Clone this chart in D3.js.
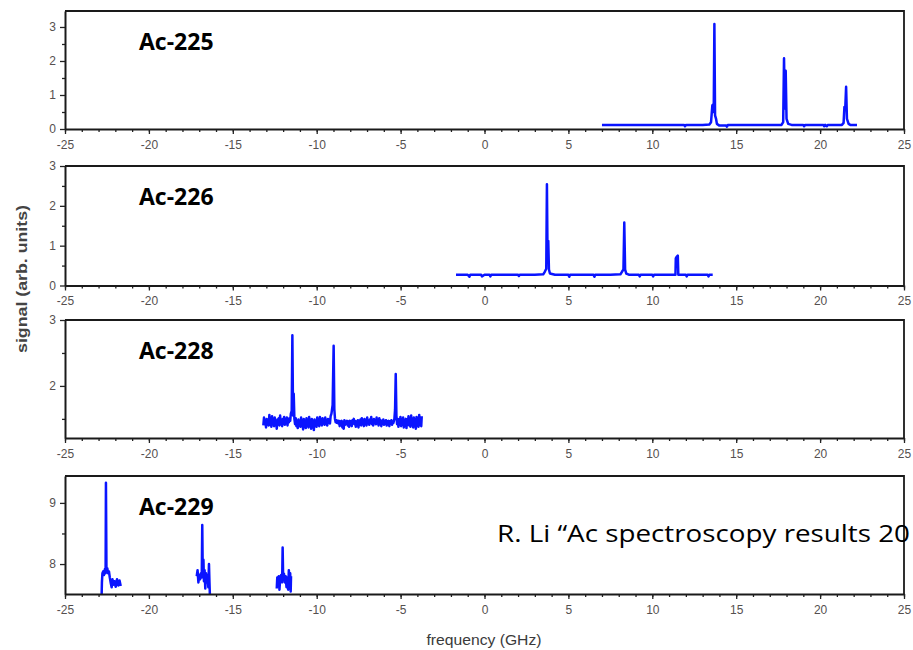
<!DOCTYPE html>
<html lang="en">
<head>
  <meta charset="UTF-8">
  <title>Ac spectra</title>
  <script src="https://d3js.org/d3.v7.min.js"></script>
  <style>
    body { margin: 0; background: #fff; }
    .tick text { font-family: "Liberation Sans", Arial, sans-serif; font-size: 12px; fill: #55504f; }
  </style>
</head>
<body>
  <script>
    // spectra: [frequency GHz, signal]
    var ac225 = [
      [7.0,0.12],[8.0,0.12],[9.0,0.12],[10.0,0.12],[11.0,0.12],[11.9,0.12],[11.95,0.08],[12.0,0.12],
      [13.0,0.12],[13.4,0.13],[13.5,0.2],[13.58,0.7],[13.63,0.72],[13.66,0.5],[13.7,3.09],[13.74,0.4],
      [13.8,0.3],[13.85,0.15],[14.0,0.1],[14.4,0.1],[14.45,0.07],[14.5,0.12],[15,0.12],[16,0.12],
      [17,0.12],[17.7,0.12],[17.8,0.2],[17.85,2.08],[17.9,0.6],[17.95,1.71],[18.0,0.3],[18.1,0.15],
      [18.3,0.12],[19.0,0.12],[19.05,0.08],[19.1,0.12],[20.2,0.12],[20.25,0.08],[20.3,0.12],[20.4,0.08],
      [20.45,0.12],[21.3,0.12],[21.4,0.18],[21.45,0.65],[21.5,0.62],[21.55,1.24],[21.6,0.3],[21.7,0.15],
      [21.8,0.12],[22.2,0.12]
    ];

    var ac226 = [
      [-1.7,0.27],[-1.0,0.27],[-0.9,0.22],[-0.85,0.27],[-0.2,0.27],[-0.15,0.23],[0,0.27],[0.3,0.27],
      [0.35,0.23],[0.4,0.27],[1.0,0.27],[2.0,0.27],[2.05,0.24],[2.1,0.27],[3.0,0.27],[3.5,0.28],
      [3.6,0.35],[3.68,0.42],[3.72,2.54],[3.76,0.6],[3.8,1.12],[3.84,0.4],[3.9,0.3],[4.2,0.27],
      [5,0.27],[5.05,0.22],[5.1,0.27],[6.5,0.27],[6.55,0.22],[6.6,0.27],[7.5,0.27],[8.1,0.28],
      [8.2,0.35],[8.28,0.4],[8.33,1.58],[8.38,0.4],[8.45,0.3],[8.6,0.27],[9.2,0.27],[9.25,0.23],
      [9.3,0.27],[10,0.27],[10.05,0.23],[10.1,0.27],[11.38,0.27],[11.4,0.68],[11.45,0.72],[11.52,0.75],
      [11.55,0.27],[12,0.27],[12.05,0.23],[12.1,0.27],[13.3,0.27],[13.35,0.23],[13.4,0.27],[13.6,0.27]
    ];

    var ac228 = [
      [-13.18,1.40],[-13.14,1.52],[-13.1,1.42],[-13.06,1.48],[-13.02,1.37],[-12.98,1.50],[-12.94,1.43],
      [-12.9,1.47],[-12.86,1.40],[-12.82,1.56],[-12.78,1.41],[-12.74,1.49],[-12.7,1.38],[-12.66,1.54],
      [-12.62,1.44],[-12.58,1.50],[-12.54,1.39],[-12.5,1.52],[-12.46,1.42],[-12.42,1.47],[-12.38,1.35],
      [-12.34,1.49],[-12.3,1.44],[-12.26,1.51],[-12.22,1.40],[-12.18,1.55],[-12.14,1.42],[-12.1,1.48],
      [-12.06,1.39],[-12.02,1.50],[-11.98,1.43],[-11.94,1.53],[-11.9,1.41],[-11.86,1.48],[-11.82,1.44],
      [-11.78,1.52],[-11.74,1.40],[-11.7,1.50],[-11.66,1.45],[-11.62,1.51],[-11.58,1.47],[-11.54,1.58],
      [-11.49,1.62],[-11.45,2.77],[-11.41,1.55],[-11.37,1.88],[-11.33,1.50],
      [-11.29,1.42],[-11.25,1.51],[-11.21,1.39],[-11.17,1.47],[-11.13,1.36],[-11.09,1.49],[-11.05,1.41],
      [-11.01,1.46],[-10.97,1.38],[-10.93,1.52],[-10.89,1.40],[-10.85,1.45],[-10.81,1.34],[-10.77,1.50],
      [-10.73,1.42],[-10.69,1.47],[-10.65,1.36],[-10.61,1.51],[-10.57,1.40],[-10.53,1.48],[-10.49,1.37],
      [-10.45,1.53],[-10.41,1.41],[-10.37,1.46],[-10.33,1.35],[-10.29,1.50],[-10.25,1.43],[-10.21,1.47],
      [-10.17,1.33],[-10.13,1.49],[-10.09,1.40],[-10.05,1.46],[-10.01,1.38],[-9.97,1.52],[-9.93,1.41],
      [-9.89,1.48],[-9.85,1.39],[-9.81,1.53],[-9.77,1.42],[-9.73,1.49],[-9.69,1.40],[-9.65,1.51],
      [-9.61,1.43],[-9.57,1.47],[-9.53,1.41],[-9.49,1.52],[-9.45,1.44],[-9.41,1.48],[-9.37,1.40],
      [-9.33,1.50],[-9.29,1.45],[-9.25,1.49],[-9.21,1.43],[-9.17,1.54],[-9.12,1.58],[-9.05,1.71],
      [-8.99,2.61],[-8.95,1.65],[-8.91,1.50],
      [-8.87,1.45],[-8.83,1.48],[-8.79,1.44],[-8.75,1.47],[-8.71,1.43],[-8.67,1.47],[-8.63,1.39],
      [-8.59,1.46],[-8.55,1.42],[-8.51,1.47],[-8.47,1.37],[-8.43,1.45],[-8.39,1.35],[-8.35,1.48],
      [-8.31,1.41],[-8.27,1.46],[-8.23,1.43],[-8.19,1.47],[-8.15,1.40],[-8.11,1.46],[-8.07,1.38],
      [-8.03,1.47],[-7.99,1.44],[-7.95,1.46],[-7.91,1.39],[-7.87,1.48],[-7.83,1.43],[-7.79,1.50],
      [-7.75,1.42],[-7.71,1.47],[-7.67,1.38],[-7.63,1.46],[-7.59,1.41],[-7.55,1.48],[-7.51,1.37],
      [-7.47,1.47],[-7.43,1.43],[-7.39,1.49],[-7.35,1.40],[-7.31,1.51],[-7.27,1.44],[-7.23,1.47],
      [-7.19,1.39],[-7.15,1.50],[-7.11,1.43],[-7.07,1.46],[-7.03,1.40],[-6.99,1.52],[-6.95,1.44],
      [-6.91,1.47],[-6.87,1.41],[-6.83,1.49],[-6.79,1.45],[-6.75,1.53],[-6.71,1.42],[-6.67,1.48],
      [-6.63,1.40],[-6.59,1.50],[-6.55,1.44],[-6.51,1.47],[-6.47,1.42],[-6.43,1.52],[-6.39,1.43],
      [-6.35,1.47],[-6.31,1.40],[-6.27,1.51],[-6.23,1.44],[-6.19,1.48],[-6.15,1.39],[-6.11,1.46],
      [-6.07,1.43],[-6.03,1.49],[-5.99,1.41],[-5.95,1.47],[-5.91,1.44],[-5.87,1.48],[-5.83,1.40],
      [-5.79,1.46],[-5.75,1.42],[-5.71,1.47],[-5.67,1.39],[-5.63,1.46],[-5.59,1.43],[-5.55,1.48],
      [-5.51,1.41],[-5.47,1.46],[-5.43,1.44],[-5.37,1.50],[-5.33,1.64],[-5.29,2.18],[-5.25,1.55],
      [-5.21,1.42],
      [-5.17,1.50],[-5.13,1.38],[-5.09,1.49],[-5.05,1.41],[-5.01,1.53],[-4.97,1.39],[-4.93,1.47],
      [-4.89,1.42],[-4.85,1.52],[-4.81,1.37],[-4.77,1.48],[-4.73,1.43],[-4.69,1.50],[-4.65,1.36],
      [-4.61,1.49],[-4.57,1.41],[-4.53,1.54],[-4.49,1.40],[-4.45,1.47],[-4.41,1.38],[-4.37,1.55],
      [-4.33,1.42],[-4.29,1.49],[-4.25,1.37],[-4.21,1.52],[-4.17,1.41],[-4.13,1.47],[-4.09,1.35],
      [-4.05,1.53],[-4.01,1.40],[-3.97,1.48],[-3.93,1.38],[-3.89,1.56],[-3.85,1.41],[-3.81,1.50],
      [-3.77,1.39],[-3.74,1.54]
    ];

    // three separate scans, null = gap
    var ac229 = [
      [-22.82,7.45],[-22.8,7.7],[-22.77,7.85],[-22.72,7.88],[-22.68,7.82],[-22.62,7.92],[-22.58,7.85],
      [-22.56,9.33],[-22.53,7.9],[-22.48,7.93],[-22.43,7.85],[-22.38,7.88],[-22.33,7.78],[-22.28,7.7],
      [-22.22,7.62],[-22.17,7.75],[-22.12,7.66],[-22.05,7.72],[-21.98,7.63],[-21.9,7.75],[-21.82,7.65],
      [-21.75,7.73],[-21.68,7.64],
      null,
      [-17.15,7.8],[-17.1,7.9],[-17.05,7.7],[-17.0,7.82],[-16.95,7.75],[-16.9,7.85],[-16.85,7.78],
      [-16.82,8.64],[-16.79,7.8],[-16.75,8.07],[-16.72,7.72],[-16.68,7.9],[-16.64,7.6],[-16.6,7.85],
      [-16.55,7.7],[-16.5,7.82],[-16.46,7.62],[-16.42,8.0],[-16.39,7.7],[-16.36,7.45],
      null,
      [-12.38,7.6],[-12.35,7.78],[-12.3,7.65],[-12.26,7.8],[-12.22,7.58],[-12.18,7.75],[-12.12,7.82],
      [-12.06,7.7],[-12.03,8.27],[-12.0,7.78],[-11.95,7.84],[-11.9,7.7],[-11.85,7.8],[-11.8,7.62],
      [-11.75,7.78],[-11.7,7.58],[-11.66,7.9],[-11.62,7.65],[-11.58,7.85],[-11.55,7.55],[-11.53,7.8]
    ];

    var isotopes = ["Ac-225", "Ac-226", "Ac-228", "Ac-229"];
    var spectra = [ac225, ac226, ac228, ac229];
    var yDomains = [[0, 3.47], [0, 3], [1.21, 3], [7.51, 9.44]];
    var yMajor = [[0, 1, 2, 3], [0, 1, 2, 3], [2, 3], [8, 9]];
    var yMinor = [[0.5, 1.5, 2.5], [0.5, 1.5, 2.5], [1.5, 2.5], [8.5]];
    var xMajor = [-25, -20, -15, -10, -5, 0, 5, 10, 15, 20, 25];
    var xMinor = d3.range(-25, 26, 1);

    var w = 913;
    var h = 650;
    var left = 65, right = 904;
    var panelTop = [11, 166, 320, 476];
    var panelBottom = [129, 285.5, 438, 594];

    var svg = d3.select("body")
                .append("svg")
                .attr("width", w)
                .attr("height", h);

    var xScale = d3.scaleLinear()
                   .domain([-25, 25])
                   .range([left, right]);

    spectra.forEach(function(data, i) {
      var yScale = d3.scaleLinear()
                     .domain(yDomains[i])
                     .range([panelBottom[i], panelTop[i]]);

      var g = svg.append("g");

      g.append("clipPath")
       .attr("id", "clip" + i)
       .append("rect")
       .attr("x", left)
       .attr("y", panelTop[i])
       .attr("width", right - left)
       .attr("height", panelBottom[i] - panelTop[i]);

      var line = d3.line()
                   .defined(function(d) { return d !== null; })
                   .x(function(d) { return xScale(d[0]); })
                   .y(function(d) { return yScale(d[1]); });

      g.append("path")
       .datum(data)
       .attr("clip-path", "url(#clip" + i + ")")
       .attr("fill", "none")
       .attr("stroke", "#0a14ff")
       .attr("stroke-width", 2.5)
       .attr("stroke-linejoin", "round")
       .attr("d", line);

      // frame: top and right borders
      g.append("path")
       .attr("fill", "none")
       .attr("stroke", "#1a1a1a")
       .attr("stroke-width", 1.8)
       .attr("d", "M" + left + "," + panelTop[i] + "H" + right + "V" + panelBottom[i]);

      // x axis: minor then major
      g.append("g")
       .attr("transform", "translate(0," + panelBottom[i] + ")")
       .call(d3.axisBottom(xScale).tickValues(xMinor).tickSize(3).tickFormat(""))
       .call(function(a) { a.select(".domain").remove(); a.selectAll("line").attr("stroke", "#222").attr("stroke-width", 1.3); });

      g.append("g")
       .attr("transform", "translate(0," + panelBottom[i] + ")")
       .call(d3.axisBottom(xScale).tickValues(xMajor).tickSize(5).tickSizeOuter(0).tickPadding(6)
              .tickFormat(function(d) { return String(d); }))
       .call(function(a) {
         a.select(".domain").attr("stroke", "#1a1a1a").attr("stroke-width", 2);
         a.selectAll("line").attr("stroke", "#222").attr("stroke-width", 1.3);
       });

      // y axis
      g.append("g")
       .attr("transform", "translate(" + left + ",0)")
       .call(d3.axisLeft(yScale).tickValues(yMinor[i]).tickSize(3).tickFormat(""))
       .call(function(a) { a.select(".domain").remove(); a.selectAll("line").attr("stroke", "#222").attr("stroke-width", 1.3); });

      g.append("g")
       .attr("transform", "translate(" + left + ",0)")
       .call(d3.axisLeft(yScale).tickValues(yMajor[i]).tickSize(5).tickSizeOuter(0).tickPadding(4)
              .tickFormat(function(d) { return String(d); }))
       .call(function(a) {
         a.select(".domain").attr("stroke", "#1a1a1a").attr("stroke-width", 2);
         a.selectAll("line").attr("stroke", "#222").attr("stroke-width", 1.3);
       });

      g.append("text")
       .attr("x", 139)
       .attr("y", panelTop[i] + 39)
       .attr("font-family", "'Open Sans', 'Noto Sans', sans-serif")
       .attr("font-weight", "bold")
       .attr("font-size", 23)
       .attr("fill", "#000")
       .text(isotopes[i]);
    });

    svg.append("text")
       .attr("transform", "translate(27,279) rotate(-90)")
       .attr("text-anchor", "middle")
       .attr("font-family", "'Liberation Sans', Arial, sans-serif")
       .attr("font-size", 14)
       .attr("font-weight", "bold")
       .attr("fill", "#444")
       .attr("textLength", 148)
       .attr("lengthAdjust", "spacingAndGlyphs")
       .text("signal (arb. units)");

    svg.append("text")
       .attr("x", 484)
       .attr("y", 645)
       .attr("text-anchor", "middle")
       .attr("font-family", "'Liberation Sans', Arial, sans-serif")
       .attr("font-size", 14)
       .attr("fill", "#3a3a3a")
       .attr("textLength", 115)
       .attr("lengthAdjust", "spacingAndGlyphs")
       .text("frequency (GHz)");

    svg.append("text")
       .attr("x", 497)
       .attr("y", 542)
       .attr("font-family", "'Open Sans', 'Noto Sans', sans-serif")
       .attr("font-size", 24)
       .attr("fill", "#000")
       .attr("textLength", 413)
       .attr("lengthAdjust", "spacingAndGlyphs")
       .text("R. Li \u201cAc spectroscopy results 20");
  </script>
</body>
</html>
